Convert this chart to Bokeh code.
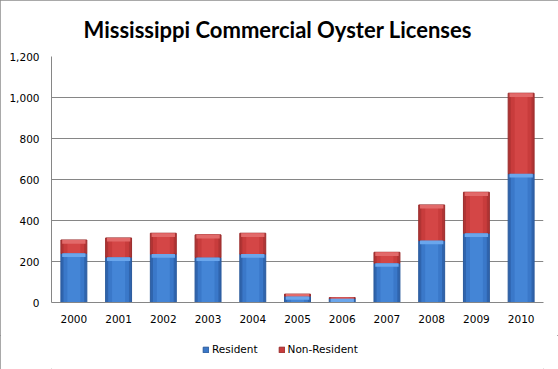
from bokeh.plotting import figure
from bokeh.layouts import column
from bokeh.models import FactorRange, Range1d, NumeralTickFormatter, Legend, LegendItem, ColumnDataSource
from bokeh.embed import file_html
from bokeh.resources import INLINE

years = ["2000", "2001", "2002", "2003", "2004", "2005", "2006", "2007", "2008", "2009", "2010"]
resident = [240, 221, 236, 220, 236, 31, 20, 192, 302, 338, 628]
non_resident = [65, 94, 102, 110, 102, 10, 4, 53, 174, 200, 393]
y_ticks = [0, 200, 400, 600, 800, 1000, 1200]

total = [r + n for r, n in zip(resident, non_resident)]
zero = [0] * len(years)
hl = 18  # highlight strip thickness (styling)
res_hl = [max(0, r - hl) for r in resident]
tot_hl = [max(r, t - hl) for r, t in zip(resident, total)]
src = ColumnDataSource(dict(x=years, res=resident, tot=total, zero=zero,
                            res_hl=res_hl, tot_hl=tot_hl))

p = figure(width=558, height=335, x_range=FactorRange(*years, range_padding=0),
           y_range=Range1d(0, 1200), output_backend="svg", toolbar_location=None,
           min_border_left=51, min_border_right=15, min_border_top=56, min_border_bottom=33)

p.title.text = "Mississippi Commercial Oyster Licenses"
p.title.align = "left"
p.title.offset = 32
p.title.vertical_align = "top"
p.title.text_font = "Lato"
p.title.text_font_style = "bold"
p.title.text_font_size = "22px"
p.title.text_color = "black"
p.title.standoff = 24

w = 0.58
p.vbar(x="x", bottom="zero", top="res", width=w, source=src,
       fill_color="#2f64ad", line_color="#2a5a9c", line_width=1)
p.vbar(x="x", bottom="res", top="tot", width=w, source=src,
       fill_color="#b03434", line_color="#9a2c2c", line_width=1)
p.vbar(x="x", bottom="zero", top="res", width=w * 0.8, source=src,
       fill_color="#3a78c9", line_color=None)
p.vbar(x="x", bottom="zero", top="res", width=w * 0.5, source=src,
       fill_color="#4485d6", line_color=None)
p.vbar(x="x", bottom="res", top="tot", width=w * 0.8, source=src,
       fill_color="#c83c3c", line_color=None)
p.vbar(x="x", bottom="res", top="tot", width=w * 0.5, source=src,
       fill_color="#d44646", line_color=None)
p.vbar(x="x", bottom="res_hl", top="res", width=w * 0.9, source=src,
       fill_color="#6aa6ec", line_color=None)
p.vbar(x="x", bottom="tot_hl", top="tot", width=w * 0.9, source=src,
       fill_color="#e26a6a", line_color=None)

p.yaxis.ticker = y_ticks
p.yaxis.formatter = NumeralTickFormatter(format="0,0")
for ax in (p.xaxis[0], p.yaxis[0]):
    ax.major_label_text_font = "DejaVu Sans"
    ax.major_label_text_font_size = "10.5px"
    ax.major_label_text_color = "black"
    ax.axis_line_color = "#868686"
    ax.major_tick_out = 0
    ax.major_tick_in = 0
    ax.minor_tick_out = 0
    ax.minor_tick_in = 0
p.yaxis.major_label_standoff = 12
p.xaxis.major_label_standoff = 12

p.xgrid.grid_line_color = None
p.ygrid.grid_line_color = "#868686"
p.ygrid.grid_line_width = 1
p.outline_line_color = None

# legend strip below the chart
q = figure(width=558, height=34, output_backend="svg", toolbar_location=None,
           x_range=Range1d(0, 1), y_range=Range1d(0, 1), min_border=0)
q.axis.visible = False
q.grid.visible = False
q.outline_line_color = None
g1 = q.vbar(x=[-5], top=[-5], width=0.1, fill_color="#3a78c9", line_color="#2a5a9c")
g2 = q.vbar(x=[-5], top=[-5], width=0.1, fill_color="#c83c3c", line_color="#9a2c2c")
legend = Legend(items=[LegendItem(label="Resident", renderers=[g1]),
                       LegendItem(label="Non-Resident", renderers=[g2])],
                orientation="horizontal", location=(151, 14),
                label_text_font="DejaVu Sans", label_text_font_size="10.5px",
                label_text_color="black",
                glyph_width=7, glyph_height=7, label_standoff=3, spacing=20,
                border_line_color=None, background_fill_alpha=0, padding=0, margin=0)
q.add_layout(legend, "center")

layout = column(p, q, spacing=0,
                styles={"outline": "1px solid #8c8c8c", "outline-offset": "-1px"})
open("out.html", "w").write(file_html(layout, INLINE))
